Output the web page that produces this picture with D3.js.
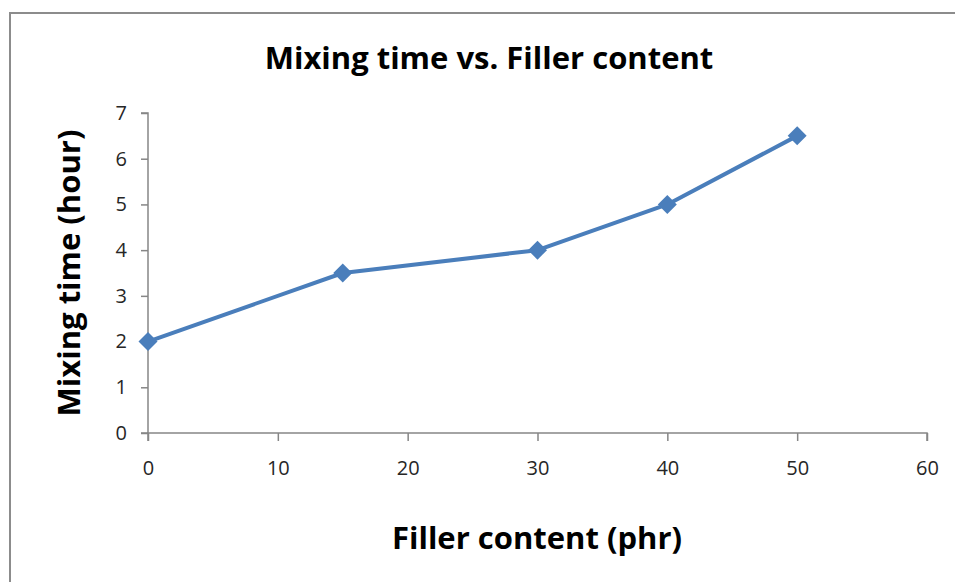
<!DOCTYPE html>
<html>
<head>
<meta charset="utf-8">
<script src="https://cdn.jsdelivr.net/npm/d3@7"></script>
<style>
  html, body { margin: 0; padding: 0; background: #fff; }
  svg { display: block; }
  text { font-variant-ligatures: none; }
</style>
</head>
<body>
<svg id="chart" width="955" height="582"></svg>
<script>
// Filler content (phr) against mixing time (hour)
const fillerContent = [0, 15, 30, 40, 50];
const mixingTime = [2, 3.5, 4, 5, 6.5];
const xTicks = [0, 10, 20, 30, 40, 50, 60];
const yTicks = [0, 1, 2, 3, 4, 5, 6, 7];

const svg = d3.select("#chart");
const font = "'Open Sans', sans-serif";
const axisColor = "#868686";
const seriesColor = "#4a7ebb";

// Outer chart frame
svg.append("rect")
  .attr("x", 10).attr("y", 13)
  .attr("width", 960).attr("height", 600)
  .attr("fill", "none")
  .attr("stroke", "#8c8c8c")
  .attr("stroke-width", 2);

const x = d3.scaleLinear().domain([0, 60]).range([148, 927]);
const y = d3.scaleLinear().domain([0, 7]).range([433, 113]);

// Y axis
const yAxis = svg.append("g")
  .attr("transform", `translate(${x(0)},0)`)
  .call(d3.axisLeft(y).tickValues(yTicks).tickSize(7).tickPadding(14).tickFormat(d3.format("d")));
// X axis
const xAxis = svg.append("g")
  .attr("transform", `translate(0,${y(0)})`)
  .call(d3.axisBottom(x).tickValues(xTicks).tickSize(8).tickPadding(20).tickFormat(d3.format("d")));

[yAxis, xAxis].forEach(g => {
  g.select(".domain").attr("stroke", axisColor).attr("stroke-width", 1.5);
  g.selectAll(".tick line").attr("stroke", axisColor).attr("stroke-width", 1.5);
  g.selectAll(".tick text")
    .attr("fill", "#262626")
    .style("font-family", font)
    .style("font-size", "20px");
});
// Outer ends of both axes carry a tick like the inner ones
xAxis.select(".domain").attr("d", `M${x(0)},8V0H${x(60)}V8`);
yAxis.select(".domain").attr("d", `M-7,${y(7)}H0V${y(0)}H-7`);

// Series line
const line = d3.line()
  .x((d, i) => x(fillerContent[i]))
  .y(d => y(d));
svg.append("path")
  .datum(mixingTime)
  .attr("d", line)
  .attr("fill", "none")
  .attr("stroke", seriesColor)
  .attr("stroke-width", 4)
  .attr("stroke-linejoin", "round");

// Diamond markers
svg.append("g").selectAll("path")
  .data(mixingTime)
  .join("path")
  .attr("d", d3.symbol().type(d3.symbolSquare).size(180))
  .attr("transform", (d, i) => `translate(${x(fillerContent[i])},${y(d)}) rotate(45)`)
  .attr("fill", seriesColor);

function boldText(tx, ty, rot, size, str) {
  return svg.append("text")
    .attr("transform", `translate(${tx},${ty}) rotate(${rot})`)
    .attr("text-anchor", "middle")
    .style("font-family", font)
    .style("font-weight", "bold")
    .style("font-size", size + "px")
    .attr("fill", "#000")
    .text(str);
}

// Title and axis titles
boldText(489, 69, 0, 31, "Mixing time vs. Filler content");
boldText(537, 549, 0, 31, "Filler content (phr)");
boldText(80, 273, -90, 31, "Mixing time (hour)");
</script>
</body>
</html>
